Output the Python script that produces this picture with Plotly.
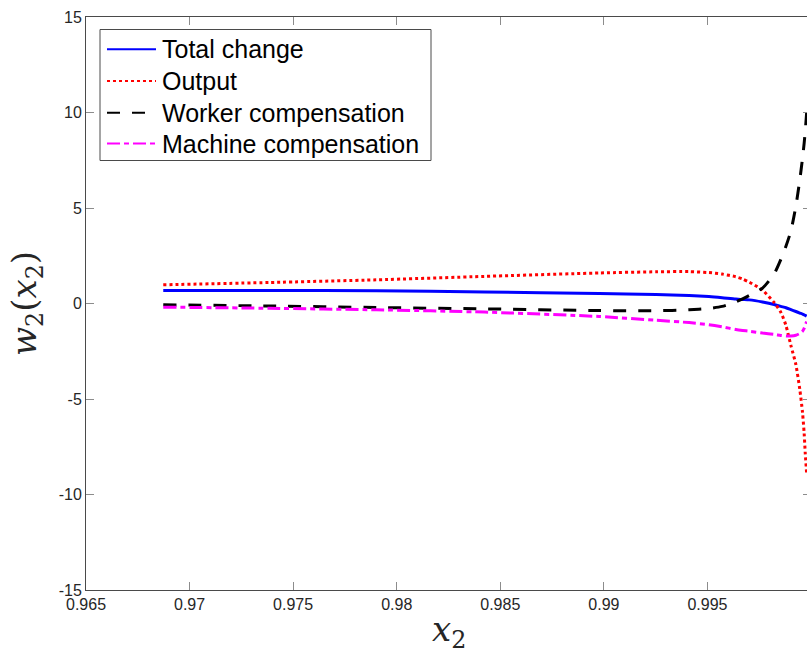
import plotly.graph_objects as go

# Grid of x_2 values at which each component of w_2(x_2) is plotted
x2 = [0.96873, 0.97387, 0.97902, 0.98424, 0.98978, 0.99252, 0.99412,
      0.99507, 0.99571, 0.99637, 0.99670, 0.99702, 0.99766, 0.99822,
      0.99854, 0.99879, 0.99903, 0.99927, 0.99946, 0.99959, 0.99967,
      0.99972, 0.99979]

total_change = [0.68, 0.68, 0.67, 0.60, 0.53, 0.47, 0.42,
                0.36, 0.30, 0.23, 0.21, 0.19, 0.08, -0.05,
                -0.15, -0.22, -0.32, -0.42, -0.50, -0.55, -0.60,
                -0.62, -0.66]

output = [0.98, 1.10, 1.24, 1.42, 1.60, 1.66, 1.67,
          1.62, 1.54, 1.40, 1.28, 1.12, 0.70, 0.05,
          -0.45, -1.15, -2.20, -3.20, -4.50, -5.70, -6.80,
          -7.80, -8.90]

worker_comp = [-0.07, -0.13, -0.21, -0.28, -0.37, -0.38, -0.33,
               -0.26, -0.15, 0.08, 0.24, 0.42, 0.81, 1.55,
               2.30, 3.00, 3.80, 5.10, 6.48, 7.60, 8.40,
               9.00, 10.00]

machine_comp = [-0.19, -0.25, -0.33, -0.45, -0.68, -0.88, -1.00,
                -1.11, -1.22, -1.36, -1.41, -1.45, -1.55, -1.62,
                -1.67, -1.70, -1.70, -1.66, -1.57, -1.45, -1.30,
                -1.15, -0.95]

series = [
    ("Total change", total_change, "#0000FF", "solid"),
    ("Output", output, "#FF0000", "dot"),
    ("Worker compensation", worker_comp, "#000000", "13px,12px"),
    ("Machine compensation", machine_comp, "#FF00FF", "13px,4px,5px,4px"),
]

x_ticks = [0.965, 0.97, 0.975, 0.98, 0.985, 0.99, 0.995]
x_tick_text = ["0.965", "0.97", "0.975", "0.98", "0.985", "0.99", "0.995"]
y_ticks = [-15, -10, -5, 0, 5, 10, 15]
y_tick_text = ["-15", "-10", "-5", "0", "5", "10", "15"]

# Figure geometry in pixels (plot area spans 86..811 horizontally, 17..590 vertically)
W, H = 815, 649
ML, MR, MT, MB = 86, 4, 17, 59
PW, PH = W - ML - MR, H - MT - MB


def px_x(p):
    return (p - ML) / PW


def px_y(p):
    return (H - MB - p) / PH


fig = go.Figure()
for name, y, color, dash in series:
    fig.add_trace(go.Scatter(
        x=x2, y=y, mode="lines", name=name, showlegend=False,
        line=dict(color=color, width=3, dash=dash, shape="spline", smoothing=0.6),
    ))

# Boxed legend in the upper-left corner of the axes
legend_box = dict(left=100, right=431, top=29.5, bottom=160.5)
fig.add_shape(type="rect", xref="paper", yref="paper",
              x0=px_x(legend_box["left"]), x1=px_x(legend_box["right"]),
              y0=px_y(legend_box["bottom"]), y1=px_y(legend_box["top"]),
              line=dict(color="#4a4a4a", width=1), fillcolor="white", layer="above")
row_y = [49.3, 81.0, 112.7, 143.5]
for (name, _, color, dash), ry in zip(series, row_y):
    fig.add_shape(type="line", xref="paper", yref="paper",
                  x0=px_x(107), x1=px_x(156), y0=px_y(ry), y1=px_y(ry),
                  line=dict(color=color, width=2, dash=dash), layer="above")
    fig.add_annotation(text=name, xref="paper", yref="paper",
                       x=px_x(160), y=px_y(ry), xanchor="left", yanchor="middle",
                       showarrow=False,
                       font=dict(family="Liberation Sans, Arial, sans-serif", size=25,
                                 color="#000000"))

axis_common = dict(
    showline=True, linecolor="#4a4a4a", linewidth=1, mirror="ticks",
    ticks="inside", ticklen=8, tickwidth=1, tickcolor="#8c8c8c",
    showgrid=False, zeroline=False, automargin=False,
    tickfont=dict(family="Liberation Sans, Arial, sans-serif", size=16, color="#262626"),
)

title_font = dict(family="DejaVu Serif, serif", size=34, color="#262626")

fig.update_xaxes(
    range=[0.965, 1.0], tickvals=x_ticks, ticktext=x_tick_text,
    **axis_common,
)
fig.update_yaxes(
    range=[-15, 15], tickvals=y_ticks, ticktext=y_tick_text,
    title=dict(text="<i>w</i><sub>2</sub>(<i>x</i><sub>2</sub>)", standoff=11, font=title_font),
    **axis_common,
)

# x-axis label placed low under the axis, near the bottom edge of the page
fig.add_annotation(text="<i>x</i><sub>2</sub>", xref="paper", yref="paper",
                   x=0.5, y=px_y(631), xanchor="center", yanchor="middle",
                   showarrow=False, font=title_font)

fig.update_layout(
    width=W, height=H,
    margin=dict(l=ML, r=MR, t=MT, b=MB),
    plot_bgcolor="white", paper_bgcolor="white",
    showlegend=False,
)

fig.write_html(
    "out.html",
    post_script="document.documentElement.style.overflow='hidden';document.body.style.overflow='hidden';",
)
